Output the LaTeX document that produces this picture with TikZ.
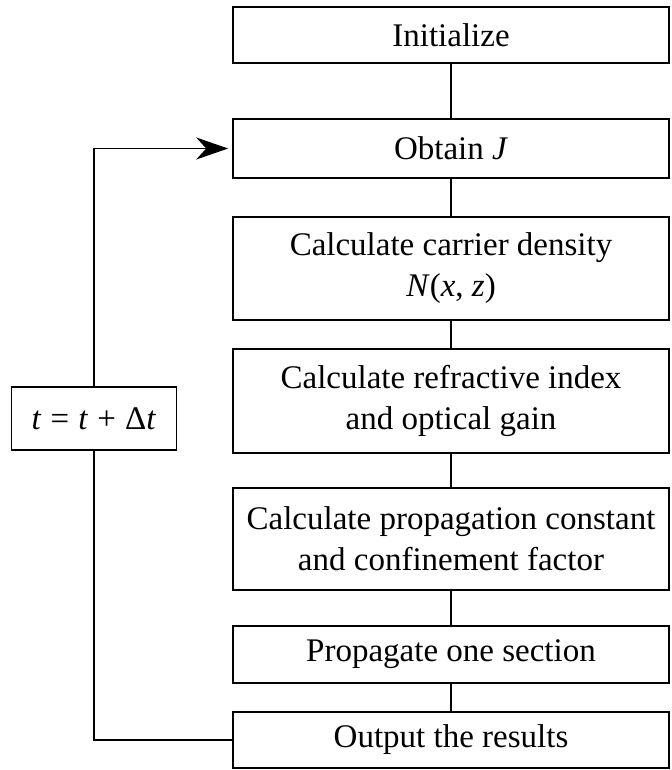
\documentclass[tikz,border=0pt]{standalone}
\usepackage{fontspec}
\setmainfont{Liberation Serif}
\usetikzlibrary{arrows.meta,positioning}

\tikzset{
  stepbox/.style={draw, line width=0.8pt, minimum width=218pt, align=center,
    inner sep=0pt, font=\fontsize{16.5}{20.5}\selectfont},
  link/.style={line width=0.8pt}
}

\begin{document}
\begin{tikzpicture}[x=0.5pt, y=-0.5pt]
\useasboundingbox (0,0) rectangle (671,770);
% ---- main column
\node[stepbox, minimum height=28pt]   (init)    at (451,35)    {Initialize};
\node[stepbox, minimum height=29.5pt] (obtain)  at (451,148.5) {Obtain \textit{J}};
\node[stepbox, minimum height=51.5pt] (carrier) at (451,268.5) {Calculate carrier density\\\textit{N}(\textit{x}, \textit{z})};
\node[stepbox, minimum height=52pt]   (refr)    at (451,401)   {Calculate refractive index\\and optical gain};
\node[stepbox, minimum height=51pt]   (prop)    at (451,539)   {Calculate propagation constant\\and confinement factor};
\node[stepbox, minimum height=28.5pt] (sect)    at (451,654.5) {Propagate one section};
\node[stepbox, minimum height=28pt]   (output)  at (451,740)   {Output the results};
\draw[link] (init) -- (obtain);
\draw[link] (obtain) -- (carrier);
\draw[link] (carrier) -- (refr);
\draw[link] (refr) -- (prop);
\draw[link] (prop) -- (sect);
\draw[link] (sect) -- (output);
% ---- feedback loop
\node[stepbox, minimum width=82.5pt, minimum height=31.5pt] (tstep) at (94,418.5)
  {\textit{t}\;=\;\textit{t}\;+\;Δ\textit{t}};
\draw[link] (output.west) -| (tstep.south);
\draw[link, -{Stealth[length=16pt, width=11pt, inset=5pt]}, shorten >=2pt] (tstep.north) |- (obtain.west);
\end{tikzpicture}
\end{document}
